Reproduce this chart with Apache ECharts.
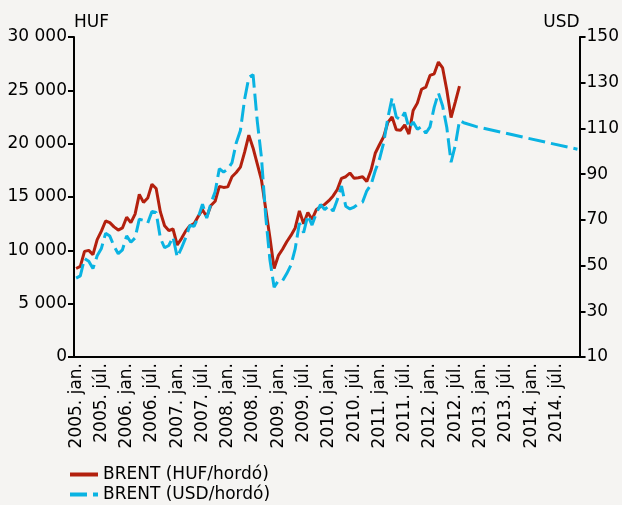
<!DOCTYPE html>
<html>
<head>
<meta charset="utf-8">
<script src="https://cdn.jsdelivr.net/npm/echarts@6/dist/echarts.min.js"></script>
<style>
html,body{margin:0;padding:0;background:#f5f4f2;}
#chart{width:622px;height:505px;}
</style>
</head>
<body>
<div id="chart"></div>
<script>
// ---- data ----
const years = [2005, 2006, 2007, 2008, 2009, 2010, 2011, 2012, 2013, 2014];
const monthNames = ['jan.', 'febr.', 'márc.', 'ápr.', 'máj.', 'jún.', 'júl.', 'aug.', 'szept.', 'okt.', 'nov.', 'dec.'];

// BRENT price in HUF per barrel, monthly, 2005 jan – 2012 aug
const brentHuf = [
  8300, 8500, 9900, 10000, 9600, 11000, 11800, 12750, 12600, 12200, 11900, 12100,
  13100, 12600, 13400, 15250, 14500, 14900, 16200, 15800, 13600, 12300, 11850, 12000,
  10500, 11100, 11800, 12300, 12500, 13200, 13800, 13150, 14200, 14600, 16000, 15900,
  15950, 16900, 17300, 17800, 19200, 20800, 19600, 18100, 16600, 13900, 11200, 8300,
  9500, 10100, 10800, 11400, 12100, 13700, 12500, 13550, 12900, 13800, 14100, 14300,
  14650, 15100, 15700, 16750, 16900, 17250, 16750, 16800, 16900, 16450, 17500, 19100,
  19900, 20650, 22000, 22500, 21300, 21250, 21750, 20900, 23100, 23800, 25100, 25300,
  26400, 26550, 27650, 27100, 25000, 22450, 23900, 25400
];

// BRENT price in USD per barrel, monthly actuals 2005 jan – 2012 aug, then forecast points
const brentUsd = [
  44.5, 45.5, 53.1, 51.9, 48.7, 54.3, 57.5, 64.1, 62.9, 58.5, 55.2, 56.9,
  63.0, 60.2, 62.1, 70.3, 69.8, 68.6, 73.7, 73.2, 62.0, 57.8, 58.8, 62.5,
  53.7, 57.6, 62.1, 67.5, 67.2, 71.1, 76.9, 70.8, 77.2, 82.3, 92.4, 90.9,
  92.2, 95.0, 103.6, 109.1, 122.8, 132.3, 133.5, 113.2, 97.2, 71.6, 52.5, 40.5,
  43.4, 43.3, 46.5, 50.2, 57.3, 68.6, 64.4, 72.0, 67.7, 72.8, 76.7, 74.5,
  76.2, 73.8, 78.8, 84.8, 76.0, 74.8, 75.6, 77.0, 77.8, 82.7, 85.3, 91.5,
  96.5, 103.7, 114.6, 123.3, 115.0, 113.8, 117.0, 110.2, 112.8, 109.6, 110.8, 107.9,
  110.7, 119.3, 125.5, 119.8, 110.3, 95.2, 102.6, 113.4, 112.5, null, null, 110.8,
  null, null, null, null, null, null, null, null, null, null, null, 105.8,
  null, null, null, null, null, null, null, null, null, null, null, 100.9
];

const seriesNames = ['BRENT (HUF/hordó)', 'BRENT (USD/hordó)'];
const leftAxisName = 'HUF';
const rightAxisName = 'USD';

// ---- build ----
const categories = [];
years.forEach(y => monthNames.forEach(m => categories.push(y + '. ' + m)));

const FONT = "'DejaVu Sans', sans-serif";
const FS = 17;
const BLACK = '#000';
const RED = '#b3200e';
const BLUE = '#0ab3e2';
const fmtThousands = v => String(v).replace(/\B(?=(\d{3})+(?!\d))/g, ' ');

const chart = echarts.init(document.getElementById('chart'), null, {renderer: 'canvas'});
chart.setOption({
  backgroundColor: '#f5f4f2',
  animation: false,
  textStyle: {fontFamily: FONT},
  grid: {left: 74, right: 42, top: 37, bottom: 148, containLabel: false},
  legend: {
    orient: 'vertical',
    left: 68, top: 465, padding: 0,
    itemWidth: 28, itemHeight: 14, itemGap: 1,
    itemStyle: {opacity: 0},
    lineStyle: {width: 4},
    textStyle: {fontFamily: FONT, fontSize: FS, lineHeight: 19, color: BLACK},
    data: seriesNames
  },
  xAxis: {
    type: 'category',
    data: categories,
    boundaryGap: true,
    axisLine: {lineStyle: {color: BLACK, width: 2}},
    axisTick: {interval: 5, length: 6, lineStyle: {color: BLACK, width: 2}},
    axisLabel: {interval: 5, rotate: 90, margin: 6, fontSize: FS, color: BLACK, fontFamily: FONT}
  },
  yAxis: [
    {
      type: 'value', position: 'left', min: 0, max: 30000, interval: 5000,
      name: leftAxisName, nameLocation: 'end', nameGap: 6,
      nameTextStyle: {align: 'left', fontSize: FS, color: BLACK, fontFamily: FONT},
      axisLine: {show: true, lineStyle: {color: BLACK, width: 2}},
      axisTick: {show: true, length: 6, lineStyle: {color: BLACK, width: 2}},
      splitLine: {show: false},
      axisLabel: {margin: 7, fontSize: FS, color: BLACK, fontFamily: FONT, formatter: fmtThousands}
    },
    {
      type: 'value', position: 'right', min: 10, max: 150, interval: 20,
      name: rightAxisName, nameLocation: 'end', nameGap: 6,
      nameTextStyle: {align: 'right', fontSize: FS, color: BLACK, fontFamily: FONT},
      axisLine: {show: true, lineStyle: {color: BLACK, width: 2}},
      axisTick: {show: true, length: 6, lineStyle: {color: BLACK, width: 2}},
      splitLine: {show: false},
      axisLabel: {margin: 7, fontSize: FS, color: BLACK, fontFamily: FONT}
    }
  ],
  series: [
    {
      name: seriesNames[0], type: 'line', yAxisIndex: 0,
      data: brentHuf, symbol: 'none', smooth: false,
      lineStyle: {color: RED, width: 3},
      itemStyle: {color: RED}
    },
    {
      name: seriesNames[1], type: 'line', yAxisIndex: 1,
      data: brentUsd, symbol: 'none', connectNulls: true,
      lineStyle: {color: BLUE, width: 3, type: [17, 6]},
      itemStyle: {color: BLUE}
    }
  ]
});
</script>
</body>
</html>
